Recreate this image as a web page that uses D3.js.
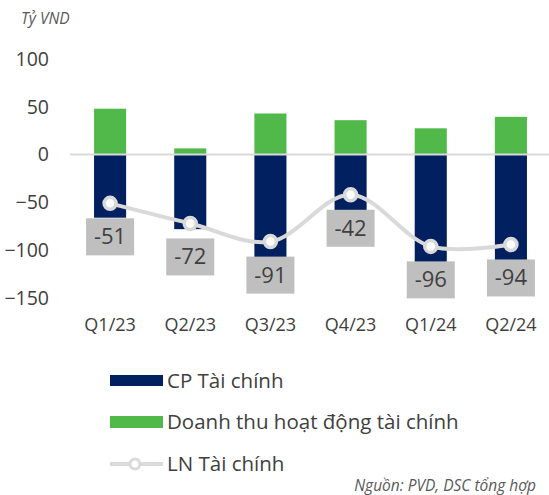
<!DOCTYPE html>
<html>
<head>
<meta charset="utf-8">
<script src="https://cdn.jsdelivr.net/npm/d3@7"></script>
<style>
  body { margin: 0; background: #fff; }
  text { font-family: "Open Sans", sans-serif; }
</style>
</head>
<body>
<div id="chart"></div>
<script>
const quarters = ["Q1/23", "Q2/23", "Q3/23", "Q4/23", "Q1/24", "Q2/24"];
const cpTaiChinh = [-66, -78, -115, -62, -115, -115];
const doanhThu = [48, 6.5, 43, 36, 27.5, 39.5];
const lnTaiChinh = [-51, -72, -91, -42, -96, -94];
const yTicks = [100, 50, 0, -50, -100, -150];
const legendNames = ["CP Tài chính", "Doanh thu hoạt động tài chính", "LN Tài chính"];

const width = 549, height = 495;
const navy = "#002060", green = "#51b84a", lineGrey = "#d9d9d9", textColor = "#404040";

const svg = d3.select("#chart").append("svg")
    .attr("width", width)
    .attr("height", height);

const xScale = d3.scaleBand()
    .domain(quarters)
    .range([70, 551])
    .paddingInner(0.6)
    .paddingOuter(0.3);

const yScale = d3.scaleLinear()
    .domain([-150, 100])
    .range([298, 59]);

// unit label
svg.append("text")
    .attr("x", 21)
    .attr("y", 24)
    .attr("font-size", 15.5)
    .attr("font-style", "italic")
    .attr("fill", "#595959")
    .text("Tỷ VND");

// y axis labels
const yAxis = d3.axisLeft(yScale).tickValues(yTicks).tickSize(0).tickPadding(0);
const yAxisG = svg.append("g")
    .attr("transform", "translate(49,0)")
    .call(yAxis);
yAxisG.select(".domain").remove();
yAxisG.selectAll("text")
    .attr("font-size", 19.5)
    .attr("fill", textColor)
    .attr("font-family", "'Open Sans', sans-serif");

// bars
svg.append("g").selectAll("rect")
    .data(quarters)
    .join("rect")
    .attr("x", (d) => xScale(d))
    .attr("width", xScale.bandwidth())
    .attr("y", yScale(0))
    .attr("height", (d, i) => yScale(cpTaiChinh[i]) - yScale(0))
    .attr("fill", navy);

svg.append("g").selectAll("rect")
    .data(quarters)
    .join("rect")
    .attr("x", (d) => xScale(d))
    .attr("width", xScale.bandwidth())
    .attr("y", (d, i) => yScale(doanhThu[i]))
    .attr("height", (d, i) => yScale(0) - yScale(doanhThu[i]))
    .attr("fill", green);

// zero line
svg.append("line")
    .attr("x1", 70)
    .attr("x2", 551)
    .attr("y1", yScale(0))
    .attr("y2", yScale(0))
    .attr("stroke", lineGrey)
    .attr("stroke-width", 2);

// x axis labels
const xAxis = d3.axisBottom(xScale).tickSize(0).tickPadding(0);
const xAxisG = svg.append("g")
    .attr("transform", "translate(0,318)")
    .call(xAxis);
xAxisG.select(".domain").remove();
xAxisG.selectAll("text")
    .attr("font-size", 18)
    .attr("fill", textColor)
    .attr("font-family", "'Open Sans', sans-serif");

// line series
const cx = (i) => xScale(quarters[i]) + xScale.bandwidth() / 2;
const line = d3.line()
    .x((d, i) => cx(i))
    .y((d) => yScale(d))
    .curve(d3.curveCatmullRom.alpha(0.5));

svg.append("path")
    .datum(lnTaiChinh)
    .attr("d", line)
    .attr("fill", "none")
    .attr("stroke", lineGrey)
    .attr("stroke-width", 4);

svg.append("g").selectAll("circle")
    .data(lnTaiChinh)
    .join("circle")
    .attr("cx", (d, i) => cx(i))
    .attr("cy", (d) => yScale(d))
    .attr("r", 6)
    .attr("fill", "#fff")
    .attr("stroke", lineGrey)
    .attr("stroke-width", 3.5);

// data labels
const labels = svg.append("g").selectAll("g")
    .data(lnTaiChinh)
    .join("g")
    .attr("transform", (d, i) => `translate(${cx(i)},${yScale(d) + 15})`);
labels.append("rect")
    .attr("x", -24)
    .attr("width", 48)
    .attr("height", 37)
    .attr("fill", "#bfbfbf");
labels.append("text")
    .attr("y", 26)
    .attr("text-anchor", "middle")
    .attr("font-size", 22)
    .attr("fill", textColor)
    .text((d) => d);

// legend
const legend = svg.append("g").attr("transform", "translate(110,0)");
const legendY = [381, 422, 464];
legend.append("rect").attr("x", 0).attr("y", 375).attr("width", 53).attr("height", 11).attr("fill", navy);
legend.append("rect").attr("x", 0).attr("y", 416).attr("width", 53).attr("height", 12).attr("fill", green);
legend.append("line").attr("x1", 0).attr("x2", 53).attr("y1", 464).attr("y2", 464)
    .attr("stroke", lineGrey).attr("stroke-width", 4);
legend.append("circle").attr("cx", 25).attr("cy", 464).attr("r", 5)
    .attr("fill", "#fff").attr("stroke", lineGrey).attr("stroke-width", 3);
legend.selectAll("text.leg")
    .data(legendNames)
    .join("text")
    .attr("class", "leg")
    .attr("x", 57)
    .attr("y", (d, i) => legendY[i])
    .attr("dy", "0.35em")
    .attr("font-size", 20.5)
    .attr("fill", textColor)
    .text((d) => d);

// source
svg.append("text")
    .attr("x", 536)
    .attr("y", 491)
    .attr("text-anchor", "end")
    .attr("font-size", 15.5)
    .attr("font-style", "italic")
    .attr("fill", "#595959")
    .text("Nguồn: PVD, DSC tổng hợp");
</script>
</body>
</html>
